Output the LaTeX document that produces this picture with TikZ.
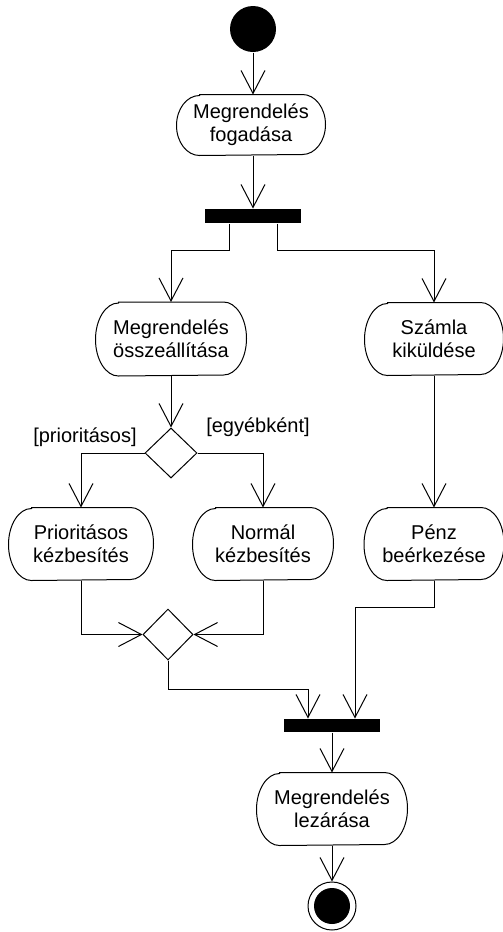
\documentclass[tikz,border=0pt]{standalone}
\usepackage{fontspec}
\setmainfont{Liberation Sans}
\usetikzlibrary{arrows.meta,shapes.geometric,calc}

% Activity box: name, x, y, width, height, text (ends are half ellipses)
\newcommand\actnode[6]{%
  \node[acttext, minimum width=#4pt, minimum height=#5pt] (#1) at (#2,#3) {#6};
  \draw[outline] ($(#1.north west)+(23,0)$) -- ($(#1.north east)+(-23,0)$)
    arc[start angle=90, end angle=-90, x radius=23pt, y radius=#5pt/2]
    -- ($(#1.south west)+(23,0)$)
    arc[start angle=270, end angle=90, x radius=23pt, y radius=#5pt/2] -- cycle;
}

\begin{document}
\begin{tikzpicture}[x=1pt,y=1pt,
  line width=1pt,
  outline/.style={draw=black, line width=1pt},
  flow/.style={draw=black, line width=1pt, -{Straight Barb[length=23pt,width=24pt]}},
  acttext/.style={inner sep=0pt, align=center, font=\fontsize{20}{23}\selectfont},
  branch/.style={diamond, draw=black, fill=white, line width=1pt, inner sep=0pt,
                 minimum width=52pt, minimum height=50pt},
  syncbar/.style={fill=black, inner sep=0pt, minimum width=96pt, minimum height=13pt},
  guard/.style={font=\fontsize{20}{23}\selectfont, inner sep=0pt},
]
\useasboundingbox (0,0) rectangle (503,-932);

% initial state
\node[circle, fill=black, inner sep=0pt, minimum size=46pt] (start) at (253,-29) {};

% activities
\actnode{fog}{251}{-125}{148}{60}{Megrendelés\\fogadása}
\actnode{ossz}{171}{-339}{150}{73}{Megrendelés\\összeállítása}
\actnode{szamla}{434}{-339}{138}{72}{Számla\\kiküldése}
\actnode{prio}{81}{-544}{144}{72}{Prioritásos\\kézbesítés}
\actnode{norm}{263}{-544}{140}{72}{Normál\\kézbesítés}
\actnode{penz}{434}{-544}{139}{72}{Pénz\\beérkezése}
\actnode{lez}{332}{-809}{150}{72}{Megrendelés\\lezárása}

% fork / join bars
\node[syncbar, minimum width=96pt, minimum height=14pt] (bar1) at (253,-216) {};
\node[syncbar] (bar2) at (332,-725.5) {};

% decision and merge
\node[branch] (dec1) at (171,-453) {};
\node[branch, minimum width=50pt, minimum height=51pt] (merge) at (168,-634.5) {};

% guards
\node[guard] (gprio) at (85,-437) {[prioritásos]};
\node[guard] (gelse) at (258,-427) {[egyébként]};

% final state
\node[circle, draw=black, fill=white, line width=1pt, inner sep=0pt, minimum size=48pt] (end) at (332,-906) {};
\node[circle, fill=black, inner sep=0pt, minimum size=36pt] (endcore) at (end.center) {};

% bend points
\coordinate (fl) at (229,-250);
\coordinate (fr) at (277,-250);
\coordinate (ml) at (308,-689);
\coordinate (pr) at (355,-607);

% flows
\draw[flow] (start) -- (start |- fog.north);
\draw[flow] (start |- fog.south) -- (start |- bar1.north);
\draw[flow] (bar1.south -| fl) -- (fl) -| (ossz.north);
\draw[flow] (bar1.south -| fr) -- (fr) -| (szamla.north);
\draw[flow] (ossz.south) -- (dec1.north);
\draw[flow] (dec1.west) -| (prio.north);
\draw[flow] (dec1.east) -| (norm.north);
\draw[flow] (szamla.south) -- (penz.north);
\draw[flow] (prio.south) |- (merge.west);
\draw[flow] (norm.south) |- (merge.east);
\draw[flow] (merge.south) |- (ml) -- (ml |- bar2.north);
\draw[flow] (penz.south) |- (pr) -- (pr |- bar2.north);
\draw[flow] (bar2.south) -- (lez.north);
\draw[flow] (lez.south) -- (end.north);
\end{tikzpicture}
\end{document}
